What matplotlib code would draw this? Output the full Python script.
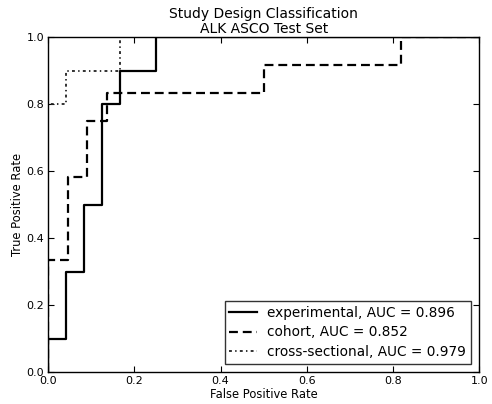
import matplotlib
matplotlib.use("Agg")
import matplotlib.pyplot as plt

# Data (ROC step curves)
exp_fpr = [0, 0, 1/24, 1/24, 2/24, 2/24, 3/24, 3/24, 4/24, 4/24, 6/24, 6/24, 1.0]
exp_tpr = [0, 0.1, 0.1, 0.3, 0.3, 0.5, 0.5, 0.8, 0.8, 0.9, 0.9, 1.0, 1.0]
coh_fpr = [0, 0, 1/22, 1/22, 2/22, 2/22, 3/22, 3/22, 11/22, 11/22, 18/22, 18/22, 1.0]
coh_tpr = [0, 4/12, 4/12, 7/12, 7/12, 9/12, 9/12, 10/12, 10/12, 11/12, 11/12, 1.0, 1.0]
cs_fpr = [0, 0, 1/24, 1/24, 4/24, 4/24, 1.0]
cs_tpr = [0, 0.8, 0.8, 0.9, 0.9, 1.0, 1.0]
labels = ["experimental, AUC = 0.896", "cohort, AUC = 0.852", "cross-sectional, AUC = 0.979"]
ticks = [0.0, 0.2, 0.4, 0.6, 0.8, 1.0]

fig = plt.figure(figsize=(4.92, 4.04), dpi=100)
ax = fig.add_axes([0.098, 0.079, 0.876, 0.829])
ax.plot(exp_fpr, exp_tpr, color='black', linestyle='-', linewidth=1.6, label=labels[0])
ax.plot(coh_fpr, coh_tpr, color='black', linestyle=(0, (4.0, 2.2)), linewidth=1.6, label=labels[1])
ax.plot(cs_fpr, cs_tpr, color='#222222', linestyle=(0, (1.6, 1.8, 0.8, 1.8)), linewidth=1.3, label=labels[2])
ax.set_xlim(0, 1)
ax.set_ylim(0, 1)
ax.set_xticks(ticks)
ax.set_yticks(ticks)
ax.set_xticklabels([f"{t:.1f}" for t in ticks])
ax.set_yticklabels([f"{t:.1f}" for t in ticks])
ax.tick_params(direction='in', top=True, right=True, labelsize=8, length=4, pad=3)
ax.set_xlabel("False Positive Rate", fontsize=8.3, labelpad=1)
ax.set_ylabel("True Positive Rate", fontsize=8.3, labelpad=2)
ax.set_title("Study Design Classification\nALK ASCO Test Set", fontsize=10, linespacing=1.05, pad=3)
for s in ax.spines.values():
    s.set_linewidth(1.0)
leg = ax.legend(loc='lower right', fontsize=9.8, frameon=True, fancybox=False,
                handlelength=2.0, borderpad=0.35, labelspacing=0.42, borderaxespad=0.6)
leg.get_frame().set_edgecolor('black')
leg.get_frame().set_linewidth(1.0)
fig.savefig("out.png", dpi=100)
